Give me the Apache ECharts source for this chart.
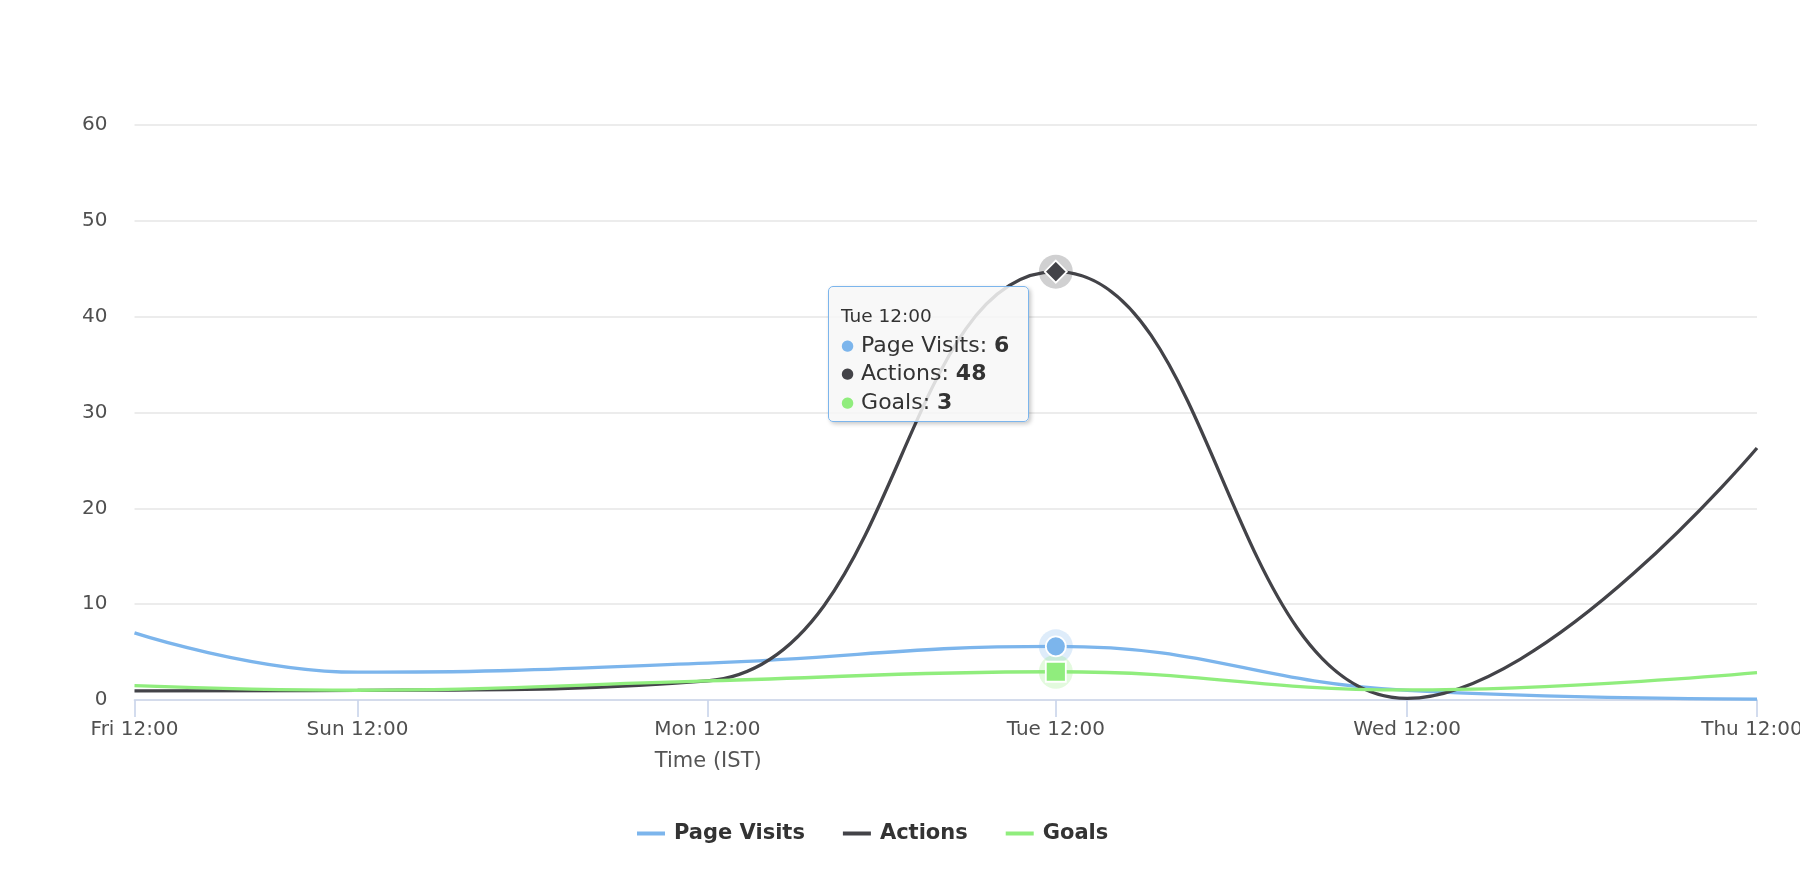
<!DOCTYPE html>
<html><head><meta charset="utf-8">
<script src="https://cdn.jsdelivr.net/npm/echarts@6/dist/echarts.min.js"></script>
<style>html,body{margin:0;padding:0;background:#fff}#chart{width:1800px;height:884px}</style>
</head><body><div id="chart"></div>
<script>
// ---- data ----
const xLabels = ['Fri 12:00', 'Sun 12:00', 'Mon 12:00', 'Tue 12:00', 'Wed 12:00', 'Thu 12:00'];
const xHours = [0, 15.3, 39.3, 63.2, 87.3, 111.3];
const pageVisits = [7.0, 2.9, 3.85, 5.6, 1.0, 0.1];
const actions = [0.95, 1.0, 2.0, 44.7, 0.17, 26.3];
const goals = [1.5, 1.02, 2.0, 2.95, 1.05, 2.85];
const yTicks = [0, 10, 20, 30, 40, 50, 60];
const seriesNames = ['Page Visits', 'Actions', 'Goals'];
const tooltipTitle = 'Tue 12:00';
const tooltipValues = [6, 48, 3];
const hoverIndex = 3;
const axisTitle = 'Time (IST)';

const colors = ['#7cb5ec', '#434348', '#90ed7d'];
const markerSymbols = ['circle', 'diamond', 'rect'];
const markerSizes = [20, 22, 20];
const allData = [pageVisits, actions, goals];
const FONT = 'DejaVu Sans, Lucida Grande, sans-serif';

const chart = echarts.init(document.getElementById('chart'));

const lineSeries = seriesNames.map((n, i) => ({
  name: n,
  type: 'line',
  data: xHours.map((x, k) => [x, allData[i][k]]),
  smooth: 0.45,
  showSymbol: false,
  symbol: 'none',
  lineStyle: { color: colors[i], width: 3.3 },
  itemStyle: { color: colors[i] },
  emphasis: { disabled: true },
  tooltip: { show: false },
  z: 2 + i
}));
const haloSeries = seriesNames.map((n, i) => ({
  type: 'scatter',
  silent: true,
  data: [[xHours[hoverIndex], allData[i][hoverIndex]]],
  symbol: 'circle',
  symbolSize: 34,
  itemStyle: { color: colors[i], opacity: 0.25 },
  emphasis: { disabled: true },
  tooltip: { show: false },
  z: 6
}));
const markerSeries = seriesNames.map((n, i) => ({
  type: 'scatter',
  data: [[xHours[hoverIndex], allData[i][hoverIndex]]],
  symbol: markerSymbols[i],
  symbolSize: markerSizes[i],
  itemStyle: { color: colors[i], borderColor: '#ffffff', borderWidth: 1.8, opacity: 1 },
  emphasis: { disabled: true },
  z: 8
}));

let tipPos = [0, 0];
const labelStyle = { fontSize: 20, color: '#505050', fontFamily: FONT };

const option = {
  animation: false,
  grid: { left: 134.5, right: 43, top: 125, bottom: 184, containLabel: false, outerBoundsMode: 'none' },
  legend: {
    data: seriesNames,
    left: 632,
    top: 818,
    icon: 'rect',
    itemWidth: 28,
    itemHeight: 4,
    itemGap: 38,
    textStyle: { fontSize: 21, fontWeight: 'bold', color: '#333333', fontFamily: FONT, padding: [0, 0, 0, 4] }
  },
  tooltip: {
    trigger: 'item',
    triggerOn: 'none',
    alwaysShowContent: true,
    showDelay: 0,
    transitionDuration: 0,
    backgroundColor: 'rgba(247,247,247,0.85)',
    borderColor: '#7cb5ec',
    borderWidth: 1.7,
    padding: [15, 12, 4, 12],
    extraCssText: 'width:201px;height:136px;box-sizing:border-box;border-radius:5px;box-shadow:2px 2px 4px rgba(0,0,0,0.22);',
    position: function () { return tipPos; },
    formatter: function () {
      let h = '<div style="font-family:' + FONT + ';color:#333;line-height:28.5px;">';
      h += '<div style="font-size:18.5px;">' + tooltipTitle + '</div>';
      seriesNames.forEach((n, i) => {
        h += '<div style="font-size:22px;white-space:nowrap;"><span style="color:' + colors[i] +
          ';font-size:15px;vertical-align:2px;">\u25CF</span> ' + n + ': <b>' + tooltipValues[i] + '</b></div>';
      });
      h += '</div>';
      return h;
    }
  },
  xAxis: {
    type: 'value',
    min: xHours[0],
    max: xHours[xHours.length - 1],
    name: axisTitle,
    nameLocation: 'middle',
    nameGap: 51,
    nameTextStyle: { fontSize: 21, color: '#555555', fontFamily: FONT, padding: [0, 475, 0, 0] },
    axisLine: { show: true, lineStyle: { color: '#ccd6eb', width: 1.7 } },
    axisTick: { show: true, customValues: xHours, length: 17, lineStyle: { color: '#ccd6eb', width: 1.7 } },
    axisLabel: Object.assign({
      customValues: xHours,
      showMinLabel: true, showMaxLabel: true,
      margin: 20,
      rich: { last: Object.assign({ padding: [0, 10, 0, 0] }, labelStyle) },
      formatter: function (v) {
        const k = xHours.findIndex(h => Math.abs(h - v) < 1e-6);
        if (k < 0) return '';
        return k === xHours.length - 1 ? '{last|' + xLabels[k] + '}' : xLabels[k];
      }
    }, labelStyle),
    splitLine: { show: false }
  },
  yAxis: {
    type: 'value',
    min: yTicks[0],
    max: yTicks[yTicks.length - 1],
    interval: yTicks[1] - yTicks[0],
    axisLine: { show: false },
    axisTick: { show: false },
    axisLabel: Object.assign({ margin: 27 }, labelStyle),
    splitLine: { lineStyle: { color: '#e6e6e6', width: 1.5 } }
  },
  series: [...lineSeries, ...haloSeries, ...markerSeries]
};
chart.setOption(option);

const p = chart.convertToPixel({ gridIndex: 0 }, [xHours[hoverIndex], actions[hoverIndex]]);
tipPos = [p[0] - 228, p[1] + 14];
chart.dispatchAction({ type: 'showTip', seriesIndex: lineSeries.length + haloSeries.length + 1, dataIndex: 0 });
</script>
</body></html>
